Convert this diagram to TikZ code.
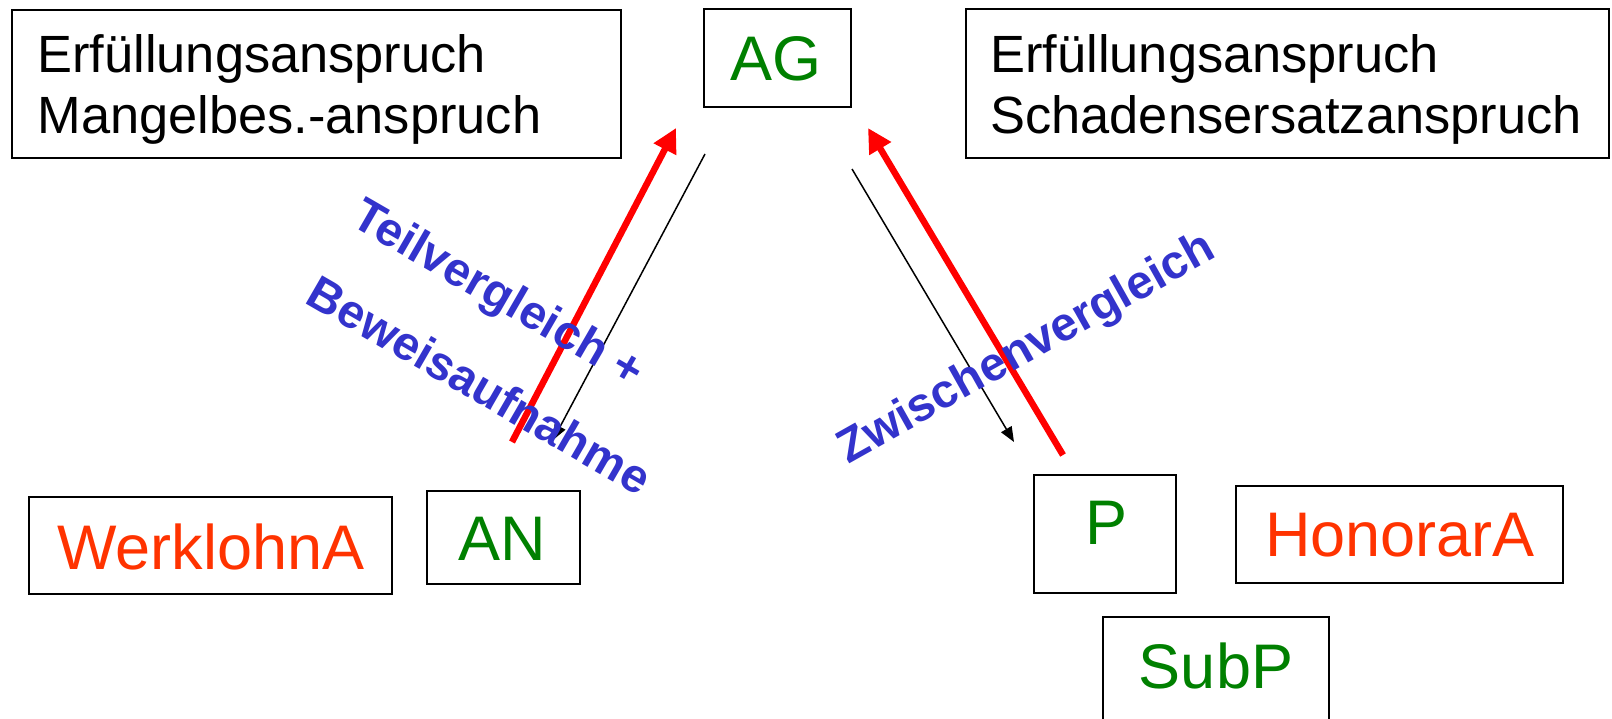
\documentclass[tikz,border=0pt]{standalone}
\usepackage{fontspec}
\setmainfont{Liberation Sans}
\usetikzlibrary{arrows.meta}
\definecolor{pgreen}{HTML}{008000}
\definecolor{pred}{HTML}{FF3300}
\definecolor{parrow}{HTML}{FF0000}
\definecolor{pblue}{HTML}{3333CC}
\tikzset{
  boxnode/.style={draw=black, line width=1pt, inner sep=0pt, rectangle},
  claimtext/.style={font=\fontsize{26.2pt}{30.5pt}\selectfont, anchor=base west, inner sep=0pt},
  bigtext/.style={font=\fontsize{31.5pt}{36pt}\selectfont, inner sep=0pt},
  partytext/.style={bigtext, text=pgreen},
  moneytext/.style={bigtext, text=pred},
  bluelabel/.style={font=\fontsize{23.7pt}{28pt}\selectfont\bfseries, text=pblue, inner sep=0pt},
  redarrow/.style={draw=parrow, line width=3.25pt, -{Triangle[length=12pt,width=12pt]}},
  blackarrow/.style={draw=black, line width=0.75pt, -{Triangle[length=7.5pt,width=6pt]}}
}
\begin{document}
\begin{tikzpicture}[x=0.5pt, y=-0.5pt]
\useasboundingbox (0,0) rectangle (1612,718);
\fill[white] (0,0) rectangle (1612,718);

% boxes
\node[boxnode, minimum width=304.5pt, minimum height=74pt] (b1) at (316.5,84) {};
\node[boxnode, minimum width=73.5pt, minimum height=49pt] (ag) at (777.5,58) {};
\node[boxnode, minimum width=321.5pt, minimum height=74.5pt] (b3) at (1287.5,83.5) {};
\node[boxnode, minimum width=181.5pt, minimum height=48.5pt] (wl) at (210.5,545.5) {};
\node[boxnode, minimum width=76.5pt, minimum height=46.5pt] (an) at (503.5,537.5) {};
\node[boxnode, minimum width=71pt, minimum height=59pt] (p) at (1105,534) {};
\node[boxnode, minimum width=163.5pt, minimum height=48.5pt] (ho) at (1399.5,534.5) {};
\node[boxnode, minimum width=113pt, minimum height=56.5pt] (sub) at (1216,673.5) {};

% box texts
\node[claimtext] (t1a) at (37,72) {Erfüllungsanspruch};
\node[claimtext] (t1b) at (37,133) {Mangelbes.-anspruch};
\node[claimtext] (t3a) at (990,72) {Erfüllungsanspruch};
\node[claimtext] (t3b) at (990,133) {Schadensersatzanspruch};
\node[partytext] (tag) at (776,58.5) {AG};
\node[partytext] (tan) at (502,539) {AN};
\node[partytext] (tp) at (1106,523) {P};
\node[partytext] (tsub) at (1216,666) {SubP};
\node[moneytext] (twl) at (211,546.5) {WerklohnA};
\node[moneytext] (tho) at (1400,535) {HonorarA};

% arrow end points
\coordinate (rlS) at (512,442);
\coordinate (rlE) at (676,128);
\coordinate (blS) at (705,154);
\coordinate (blE) at (553,440);
\coordinate (brS) at (852,169);
\coordinate (brE) at (1014,442);
\coordinate (rrS) at (1063,455);
\coordinate (rrE) at (868,128);

\draw[redarrow] (rlS) -- (rlE);
\draw[blackarrow] (blS) -- (blE);
\draw[blackarrow] (brS) -- (brE);
\draw[redarrow] (rrS) -- (rrE);

% blue labels
\node[bluelabel, rotate=-30] (lab1) at (497,296) {Teilvergleich +};
\node[bluelabel, rotate=-30] (lab2) at (480,385) {Beweisaufnahme};
\node[bluelabel, rotate=29.3] (lab3) at (1027,350) {Zwischenvergleich};
\end{tikzpicture}
\end{document}
